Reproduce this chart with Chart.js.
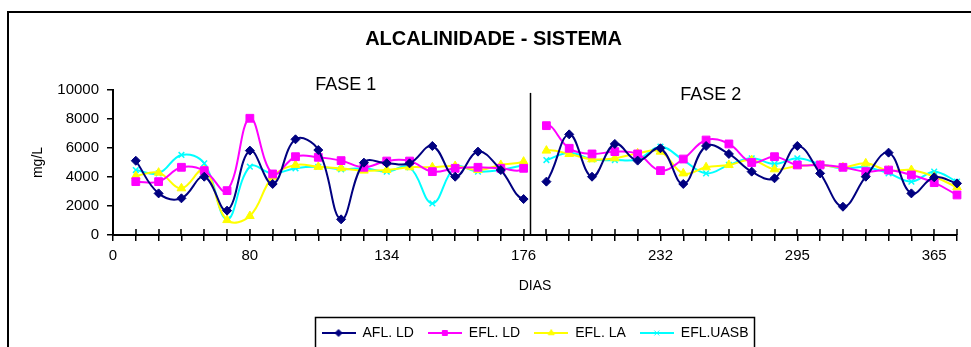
<!DOCTYPE html>
<html>
<head>
<meta charset="utf-8">
<title>Alcalinidade - Sistema</title>
<script src="https://cdn.jsdelivr.net/npm/chart.js@4/dist/chart.umd.min.js"></script>
<style>
  html, body { margin: 0; padding: 0; background: #fff; overflow: hidden; }
  #wrap { position: relative; width: 971px; height: 360px; }
</style>
</head>
<body>
<div id="wrap"><canvas id="alcChart"></canvas></div>
<script>
// x axis: one category per sampling, a day label every 6th category
const tickDays = ['0', '80', '134', '176', '232', '295', '365'];
const categoryCount = 38;

// mg/L, FASE 1 (categories 1-18) and FASE 2 (categories 19-37)
const aflLdFase1 = [5120, 2870, 2530, 4020, 1680, 5820, 3520, 6600, 5860, 1080, 4990, 4950, 4940, 6140, 4020, 5750, 4480, 2480];
const aflLdFase2 = [3680, 6940, 4020, 6280, 5130, 5980, 3520, 6140, 5590, 4370, 3910, 6140, 4250, 1950, 4020, 5680, 2870, 3980, 3560];

const eflLdFase1 = [3680, 3680, 4670, 4440, 3060, 8050, 4210, 5400, 5360, 5130, 4670, 5100, 5100, 4370, 4600, 4670, 4600, 4600];
const eflLdFase2 = [7540, 5980, 5590, 5750, 5590, 4440, 5240, 6550, 6280, 5000, 5400, 4830, 4830, 4670, 4370, 4480, 4140, 3610, 2760];

const eflLaFase1 = [4070, 4300, 3220, 4480, 1030, 1310, 4020, 4830, 4700, 4600, 4440, 4480, 4670, 4670, 4760, 4480, 4830, 5060];
const eflLaFase2 = [5820, 5590, 5220, 5290, 5630, 5750, 4250, 4670, 4830, 5170, 4530, 4760, 4830, 4670, 4940, 4440, 4480, 4020, 3290];

const eflUasbFase1 = [4480, 4250, 5520, 4940, 1080, 4710, 4250, 4600, 4700, 4530, 4600, 4370, 4670, 2180, 4670, 4370, 4480, 4830];
const eflUasbFase2 = [5170, 5680, 5220, 5170, 5220, 6090, 5170, 4250, 4830, 5290, 4900, 5290, 4900, 4600, 4670, 4250, 3680, 4370, 3680];

const FONT = "'Liberation Sans', Arial, sans-serif";
Chart.defaults.font.family = FONT;
Chart.defaults.color = '#000';

const categories = [];
for (let i = 0; i < categoryCount; i++) {
  categories.push(i % 6 === 0 ? tickDays[i / 6] : '');
}

const series = [
  { label: 'AFL. LD', color: '#000080', style: 'rectRot', radius: 4.5, f1: aflLdFase1, f2: aflLdFase2 },
  { label: 'EFL. LD', color: '#ff00ff', style: 'rect', radius: 5.5, f1: eflLdFase1, f2: eflLdFase2 },
  { label: 'EFL. LA', color: '#ffff00', style: 'triangle', radius: 5, f1: eflLaFase1, f2: eflLaFase2 },
  { label: 'EFL.UASB', color: '#00ffff', style: 'crossRot', radius: 4, f1: eflUasbFase1, f2: eflUasbFase2 },
];

const phaseBreak = aflLdFase1.length; // last category of FASE 1

// small line + marker picture for the legend
function legendIcon(s) {
  const c = document.createElement('canvas');
  c.width = 34;
  c.height = 12;
  const g = c.getContext('2d');
  g.strokeStyle = s.color;
  g.fillStyle = s.color;
  g.lineWidth = 2;
  g.beginPath();
  g.moveTo(0, 6);
  g.lineTo(34, 6);
  g.stroke();
  g.lineWidth = 1;
  Chart.helpers.drawPoint(g, { pointStyle: s.style, radius: 3.5, borderWidth: 1, rotation: 0 }, 17, 6);
  return c;
}
const icons = series.map(legendIcon);

const datasets = series.map(s => ({
  label: s.label,
  data: [null, ...s.f1, ...s.f2],
  borderColor: s.color,
  backgroundColor: s.color,
  borderWidth: 2,
  tension: 0.4,
  pointStyle: s.style,
  pointRadius: s.radius,
  pointBorderWidth: s.style === 'crossRot' ? 1.5 : 1,
  pointBackgroundColor: s.color,
  pointBorderColor: s.color,
  segment: {
    borderColor: ctx => (ctx.p0DataIndex === phaseBreak ? 'rgba(0,0,0,0)' : undefined),
  },
}));

const decor = {
  id: 'decor',
  beforeDraw(chart) {
    const { ctx } = chart;
    ctx.save();
    ctx.fillStyle = '#fff';
    ctx.fillRect(0, 0, chart.width, chart.height);
    ctx.strokeStyle = '#000';
    ctx.lineWidth = 2;
    ctx.strokeRect(8, 12, chart.width + 40, chart.height + 40);
    ctx.restore();

    // legend sits centred under the plot area, not the whole canvas
    const lg = chart.legend;
    const area = chart.chartArea;
    const shift = (area.left + area.right) / 2 - (lg.left + lg.right) / 2;
    if (Math.abs(shift) > 0.5) {
      lg.left += shift;
      lg.right += shift;
      lg.adjustHitBoxes();
    }
  },
  afterDraw(chart) {
    const { ctx, chartArea } = chart;
    const xs = chart.scales.x;
    const ys = chart.scales.y;
    ctx.save();

    // tick marks cross the x axis
    ctx.strokeStyle = '#000';
    ctx.lineWidth = 1.5;
    xs.ticks.forEach((t, i) => {
      const px = Math.round(xs.getPixelForTick(i));
      ctx.beginPath();
      ctx.moveTo(px, chartArea.bottom - 6);
      ctx.lineTo(px, chartArea.bottom);
      ctx.stroke();
    });

    // separator between the two phases
    const sepX = Math.round(xs.getPixelForValue(phaseBreak + 0.3)) + 0.5;
    ctx.lineWidth = 1.5;
    ctx.beginPath();
    ctx.moveTo(sepX, ys.getPixelForValue(9800));
    ctx.lineTo(sepX, chartArea.bottom);
    ctx.stroke();

    ctx.fillStyle = '#000';
    ctx.font = '18px ' + FONT;
    ctx.textAlign = 'center';
    ctx.textBaseline = 'middle';
    ctx.fillText('FASE 1', xs.getPixelForValue(10.2), ys.getPixelForValue(10350));
    ctx.fillText('FASE 2', xs.getPixelForValue(26.2), ys.getPixelForValue(9650));

    // legend frame
    const lg = chart.legend;
    const hb = lg.legendHitBoxes;
    if (hb && hb.length) {
      const first = hb[0];
      const last = hb[hb.length - 1];
      const left = first.left - 7;
      const right = last.left + last.width + 5;
      ctx.lineWidth = 1.5;
      ctx.strokeRect(Math.round(left) + 0.5, Math.round(lg.top) + 5.5, Math.round(right - left), 80);
    }
    ctx.restore();
  },
};

new Chart(document.getElementById('alcChart'), {
  type: 'line',
  data: { labels: categories, datasets },
  plugins: [decor],
  options: {
    responsive: true,
    maintainAspectRatio: false,
    animation: false,
    layout: { padding: { top: 0, left: 30, right: 14, bottom: 10 } },
    scales: {
      x: {
        offset: false,
        grid: { drawOnChartArea: false, drawTicks: true, tickLength: 6, color: '#000', lineWidth: 1.5 },
        border: { color: '#000', width: 2 },
        ticks: { autoSkip: false, maxRotation: 0, padding: 6, color: '#000', font: { size: 15 } },
        title: { display: true, text: 'DIAS', color: '#000', font: { size: 14 }, padding: { top: 10, bottom: 17 } },
        afterFit(scale) { scale.height = 77; },
      },
      y: {
        min: 0,
        max: 10000,
        grid: { drawOnChartArea: false, drawTicks: true, tickLength: 6, color: '#000', lineWidth: 1.5 },
        border: { color: '#000', width: 2 },
        ticks: { stepSize: 2000, padding: 8, color: '#000', font: { size: 15 }, callback: v => String(v) },
        title: { display: true, text: 'mg/L', color: '#000', font: { size: 14 }, padding: { top: 0, bottom: 0 } },
        afterFit(scale) { scale.width = 83; },
      },
    },
    plugins: {
      title: {
        display: true,
        text: 'ALCALINIDADE - SISTEMA',
        color: '#000',
        font: { size: 20, weight: 'bold' },
        padding: { top: 27, bottom: 39 },
      },
      legend: {
        position: 'bottom',
        labels: {
          usePointStyle: true,
          pointStyleWidth: 34,
          padding: 14,
          color: '#000',
          font: { size: 14 },
          generateLabels: chart => chart.data.datasets.map((ds, i) => ({
            text: ds.label,
            pointStyle: icons[i],
            fillStyle: ds.borderColor,
            strokeStyle: ds.borderColor,
            lineWidth: 0,
            fontColor: '#000',
            hidden: false,
            datasetIndex: i,
          })),
        },
      },
      tooltip: { enabled: false },
    },
  },
});
</script>
</body>
</html>
